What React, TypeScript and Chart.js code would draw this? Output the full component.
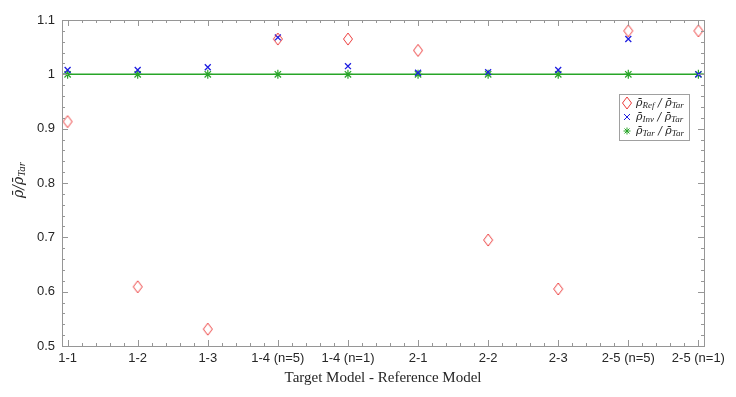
import React, { useEffect, useRef } from 'react';
import { Chart, registerables } from 'chart.js';
Chart.register(...registerables);

const categories = ['1-1', '1-2', '1-3', '1-4 (n=5)', '1-4 (n=1)', '2-1', '2-2', '2-3', '2-5 (n=5)', '2-5 (n=1)'];
const refValues = [0.913, 0.609, 0.531, 1.065, 1.065, 1.044, 0.695, 0.605, 1.080, 1.080];
const invValues = [1.008, 1.008, 1.013, 1.068, 1.015, 1.003, 1.004, 1.008, 1.065, 1.000];
const tarValues = [1, 1, 1, 1, 1, 1, 1, 1, 1, 1];
const yTicks = [0.5, 0.6, 0.7, 0.8, 0.9, 1, 1.1];
const xMin = 0.92;
const xMax = 10.08;
const yMin = 0.5;
const yMax = 1.1;

const RED = 'rgb(236,60,60)';
const BLUE = 'rgb(30,30,225)';
const GREEN = 'rgb(40,165,40)';
const AXIS = 'rgb(150,150,150)';
const TEXT = '#262626';

function makeDiamond(): HTMLCanvasElement {
  const c = document.createElement('canvas');
  c.width = 12; c.height = 14;
  const g = c.getContext('2d')!;
  g.strokeStyle = RED;
  g.lineWidth = 1;
  g.beginPath();
  g.moveTo(6, 1); g.lineTo(10.5, 7); g.lineTo(6, 13); g.lineTo(1.5, 7); g.closePath();
  g.stroke();
  return c;
}

type Part = { t: string; sub?: boolean };

function drawRich(ctx: CanvasRenderingContext2D, parts: Part[], x: number, y: number, size: number, align: 'left' | 'center', subScale = 0.72) {
  const mainFont = `italic ${size}px "DejaVu Serif", "Liberation Serif", serif`;
  const subFont = `italic ${Math.round(size * subScale)}px "Liberation Serif", serif`;
  let total = 0;
  const widths = parts.map(p => { ctx.font = p.sub ? subFont : mainFont; const w = ctx.measureText(p.t).width; total += w; return w; });
  let cx = align === 'center' ? x - total / 2 : x;
  ctx.textBaseline = 'middle';
  ctx.textAlign = 'left';
  parts.forEach((p, i) => {
    ctx.font = p.sub ? subFont : mainFont;
    ctx.fillText(p.t, cx, p.sub ? y + size * 0.25 : y);
    cx += widths[i];
  });
}

const framePlugin = {
  id: 'frame',
  afterDraw(chart: any) {
    const ctx: CanvasRenderingContext2D = chart.ctx;
    const { left, right, top, bottom } = chart.chartArea;
    const xs = chart.scales.x;
    const ys = chart.scales.y;
    ctx.save();
    ctx.strokeStyle = AXIS;
    ctx.lineWidth = 1;
    ctx.strokeRect(Math.round(left) + 0.5, Math.round(top) + 0.5, Math.round(right - left), Math.round(bottom - top));
    const major = 6, minor = 3;
    ctx.beginPath();
    for (let k = 0; k <= 50; k++) {
      const v = 1 + k * 0.2;
      if (v > xMax) break;
      const px = Math.round(xs.getPixelForValue(v)) + 0.5;
      const len = k % 5 === 0 ? major : minor;
      ctx.moveTo(px, bottom); ctx.lineTo(px, bottom - len);
      ctx.moveTo(px, top); ctx.lineTo(px, top + len);
    }
    for (let k = 0; k <= 30; k++) {
      const v = yMin + k * 0.02;
      const py = Math.round(ys.getPixelForValue(v)) + 0.5;
      const len = k % 5 === 0 ? major : minor;
      ctx.moveTo(left, py); ctx.lineTo(left + len, py);
      ctx.moveTo(right, py); ctx.lineTo(right - len, py);
    }
    ctx.stroke();

    // axis titles
    ctx.fillStyle = TEXT;
    ctx.font = '15px "Liberation Serif", serif';
    ctx.textAlign = 'center';
    ctx.textBaseline = 'middle';
    ctx.fillText('Target Model - Reference Model', (left + right) / 2, 378);

    ctx.save();
    ctx.translate(19, 180);
    ctx.rotate(-Math.PI / 2);
    drawRich(ctx, [{ t: 'ρ̄/ρ̄' }, { t: 'Tar', sub: true }], 0, 0, 14, 'center', 0.78);
    ctx.restore();

    // legend
    const lx = 619, ly = 94, lw = 70, lh = 46;
    ctx.fillStyle = '#fff';
    ctx.fillRect(lx, ly, lw, lh);
    ctx.strokeStyle = 'rgb(160,160,160)';
    ctx.strokeRect(lx + 0.5, ly + 0.5, lw, lh);
    const rows = [
      { sym: 'diamond', parts: [{ t: 'ρ̄' }, { t: 'Ref', sub: true }, { t: ' / ρ̄' }, { t: 'Tar', sub: true }] },
      { sym: 'x', parts: [{ t: 'ρ̄' }, { t: 'Inv', sub: true }, { t: ' / ρ̄' }, { t: 'Tar', sub: true }] },
      { sym: 'star', parts: [{ t: 'ρ̄' }, { t: 'Tar', sub: true }, { t: ' / ρ̄' }, { t: 'Tar', sub: true }] },
    ];
    rows.forEach((r, i) => {
      const cy = ly + 9 + i * 14;
      const sx = lx + 8;
      ctx.lineWidth = 1;
      ctx.beginPath();
      if (r.sym === 'diamond') {
        ctx.strokeStyle = RED;
        ctx.moveTo(sx, cy - 6); ctx.lineTo(sx + 4.5, cy); ctx.lineTo(sx, cy + 6); ctx.lineTo(sx - 4.5, cy); ctx.closePath();
      } else if (r.sym === 'x') {
        ctx.strokeStyle = BLUE;
        ctx.moveTo(sx - 3, cy - 3); ctx.lineTo(sx + 3, cy + 3);
        ctx.moveTo(sx + 3, cy - 3); ctx.lineTo(sx - 3, cy + 3);
      } else {
        ctx.strokeStyle = GREEN;
        ctx.moveTo(sx - 3.5, cy); ctx.lineTo(sx + 3.5, cy);
        ctx.moveTo(sx, cy - 3.5); ctx.lineTo(sx, cy + 3.5);
        ctx.moveTo(sx - 2.5, cy - 2.5); ctx.lineTo(sx + 2.5, cy + 2.5);
        ctx.moveTo(sx + 2.5, cy - 2.5); ctx.lineTo(sx - 2.5, cy + 2.5);
      }
      ctx.stroke();
      ctx.fillStyle = TEXT;
      drawRich(ctx, r.parts, lx + 17, cy, 11, 'left', 0.8);
    });
    ctx.restore();
  },
};

export default function App() {
  const ref = useRef<HTMLCanvasElement | null>(null);
  useEffect(() => {
    document.body.style.margin = '0';
    const diamond = makeDiamond();
    const chart = new Chart(ref.current!, {
      type: 'scatter',
      data: {
        datasets: [
          {
            label: 'line',
            type: 'line',
            data: [{ x: xMin, y: 1 }, { x: xMax, y: 1 }],
            borderColor: GREEN,
            borderWidth: 1.5,
            pointRadius: 0,
            showLine: true,
            order: 4,
          } as any,
          {
            label: 'Tar',
            data: tarValues.map((v, i) => ({ x: i + 1, y: v })),
            pointStyle: 'star',
            radius: 4.5,
            borderColor: GREEN,
            backgroundColor: GREEN,
            borderWidth: 1.2,
            order: 3,
          },
          {
            label: 'Inv',
            data: invValues.map((v, i) => ({ x: i + 1, y: v })),
            pointStyle: 'crossRot',
            radius: 4.2,
            borderColor: BLUE,
            backgroundColor: BLUE,
            borderWidth: 1.3,
            order: 2,
          },
          {
            label: 'Ref',
            data: refValues.map((v, i) => ({ x: i + 1, y: v })),
            pointStyle: diamond,
            radius: 6,
            borderColor: RED,
            backgroundColor: 'rgba(0,0,0,0)',
            order: 1,
          },
        ],
      },
      options: {
        animation: false,
        responsive: false,
        layout: { padding: { top: 20, right: 32, left: 0, bottom: 0 } },
        plugins: { legend: { display: false }, tooltip: { enabled: false } },
        scales: {
          x: {
            type: 'linear',
            min: xMin,
            max: xMax,
            afterBuildTicks: (s: any) => { s.ticks = categories.map((_, i) => ({ value: i + 1 })); },
            afterFit: (s: any) => { s.height = 51; },
            ticks: {
              autoSkip: false,
              maxRotation: 0,
              padding: 5,
              color: TEXT,
              font: { family: '"Liberation Sans", Arial, sans-serif', size: 13 },
              callback: (v: any) => categories[Math.round(Number(v)) - 1] ?? '',
            },
            grid: { display: false, drawTicks: false },
            border: { display: false },
          },
          y: {
            type: 'linear',
            min: yMin,
            max: yMax,
            afterBuildTicks: (s: any) => { s.ticks = yTicks.map(v => ({ value: v })); },
            afterFit: (s: any) => { s.width = 62; },
            ticks: {
              padding: 7,
              color: TEXT,
              font: { family: '"Liberation Sans", Arial, sans-serif', size: 13 },
              callback: (v: any) => String(Number(Number(v).toFixed(2))),
            },
            grid: { display: false, drawTicks: false },
            border: { display: false },
          },
        },
      },
      plugins: [framePlugin],
    });
    return () => chart.destroy();
  }, []);
  return <canvas ref={ref} width={736} height={397} style={{ display: 'block' }} />;
}
